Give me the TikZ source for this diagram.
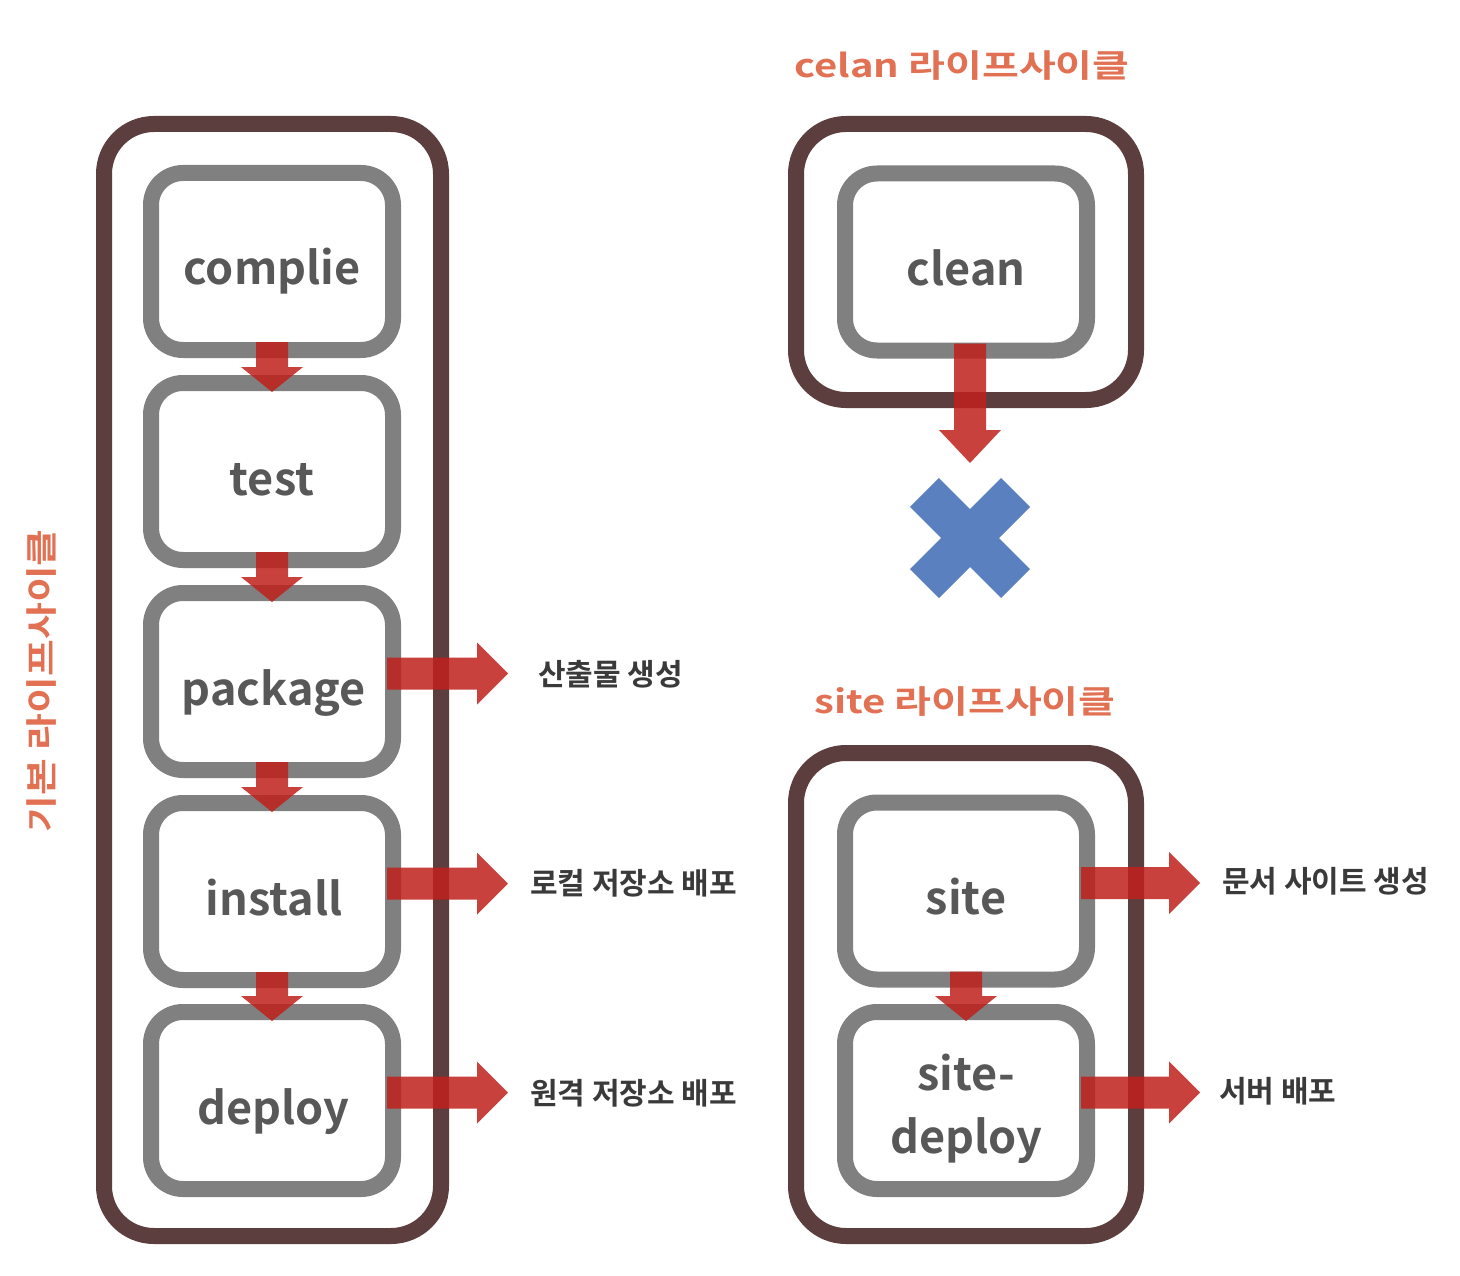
\documentclass[tikz,border=0pt]{standalone}
\usepackage{fontspec}
\setmainfont{Noto Sans CJK KR}[BoldFont={Noto Sans CJK KR Bold}]
\usetikzlibrary{calc}
\definecolor{outerbrown}{RGB}{92,62,62}
\definecolor{innergray}{RGB}{128,128,128}
\definecolor{arrowred}{RGB}{192,32,28}
\definecolor{xblue}{RGB}{91,128,192}
\definecolor{titleorange}{RGB}{226,112,82}
\definecolor{boxtextgray}{RGB}{88,88,88}
\definecolor{labelgray}{RGB}{58,58,58}
\tikzset{
  outerbox/.style={draw=outerbrown, line width=16pt, rounded corners=50pt, minimum width=337pt, inner sep=0pt, outer sep=0pt},
  innerbox/.style={draw=innergray, fill=white, line width=16pt, rounded corners=32pt, minimum width=242pt, minimum height=177pt, inner sep=0pt, outer sep=0pt},
  boxtext/.style={text=boxtextgray, font=\fontsize{45}{54}\selectfont\bfseries, inner sep=0pt, anchor=base},
  sidelabel/.style={text=labelgray, font=\fontsize{30}{36}\selectfont\bfseries, inner sep=0pt, anchor=west},
  titletext/.style={text=titleorange, font=\fontsize{40}{48}\selectfont\bfseries, inner sep=0pt},
  arrowfill/.style={fill=arrowred, fill opacity=0.85}
}
% down arrow from node #1 to node #2
\newcommand\myDownArrow[2]{%
  \fill[arrowfill] let \p1=(#1.south), \p2=(#2.north) in
    (\x1-16pt,\y1+8pt) -- (\x1+16pt,\y1+8pt) -- (\x1+16pt,\y2+16pt) -- (\x1+31pt,\y2+16pt)
    -- (\x1,\y2-9pt) -- (\x1-31pt,\y2+16pt) -- (\x1-16pt,\y2+16pt) -- cycle;}
% right arrow from node #1 to coordinate #2
\newcommand\myRightArrow[2]{%
  \fill[arrowfill] let \p1=($(#1.east)+(-6,-8)$), \p2=(#2) in
    (\x1,\y1+16pt) -- (\x2-31pt,\y1+16pt) -- (\x2-31pt,\y1+31pt) -- (\x2,\y1)
    -- (\x2-31pt,\y1-31pt) -- (\x2-31pt,\y1-16pt) -- (\x1,\y1-16pt) -- cycle;}
\begin{document}
\begin{tikzpicture}[x=1pt,y=-1pt]
\useasboundingbox[fill=white] (0,0) rectangle (1460,1276);

% outer boxes
\node[outerbox, minimum height=1112pt] (basic) at (272.5,680) {};
\node[outerbox, minimum width=340pt, minimum height=276pt] (cleanlc) at (966,262) {};
\node[outerbox, minimum width=340pt, minimum height=483pt] (sitelc) at (966,994.5) {};

% titles
\node[titletext, rotate=90] (basictitle) at (42,681) {\scalebox{1}[0.8]{기본 라이프사이클}};
\node[titletext] (cleantitle) at (962,66) {\scalebox{1}[0.8]{celan 라이프사이클}};
\node[titletext] (sitetitle) at (965,702) {\scalebox{1}[0.8]{site 라이프사이클}};

% left inner boxes
\node[innerbox] (compile) at (272,261.5) {};
\node[innerbox] (test) at (272,471.5) {};
\node[innerbox] (package) at (272,681.5) {};
\node[innerbox] (install) at (272,891.5) {};
\node[innerbox] (deploy) at (272,1100.5) {};
\node[boxtext] (compiletxt) at (272,285) {complie};
\node[boxtext] (testtxt) at (272,495) {test};
\node[boxtext] (packagetxt) at (274,705) {package};
\node[boxtext] (installtxt) at (274,915) {install};
\node[boxtext] (deploytxt) at (273,1124) {deploy};

% right inner boxes
\node[innerbox] (clean) at (966,262) {};
\node[boxtext] (cleantxt) at (966,285.5) {clean};
\node[innerbox] (site) at (966,891) {};
\node[boxtext] (sitetxt) at (966,914.5) {site};
\node[innerbox] (sitedeploy) at (966,1100.5) {};
\node[boxtext] (sitedeploytxta) at (966,1090) {site-};
\node[boxtext] (sitedeploytxtb) at (966,1153) {deploy};

% down arrows
\myDownArrow{compile}{test}
\myDownArrow{test}{package}
\myDownArrow{package}{install}
\myDownArrow{install}{deploy}
\myDownArrow{site}{sitedeploy}

% clean arrow to the cross
\coordinate (cleantip) at (970,463);
\fill[arrowfill] let \p1=(clean.south), \p2=(cleantip) in
  (\x2-16pt,\y1+7pt) -- (\x2+16pt,\y1+7pt) -- (\x2+16pt,\y2+33pt) -- (\x2+31pt,\y2+33pt)
  -- (\x2,\y2) -- (\x2-31pt,\y2+33pt) -- (\x2-16pt,\y2+33pt) -- cycle;

% blue cross
\fill[xblue, rotate around={45:(970,538)}] (905.5,517.5) rectangle (1034.5,558.5);
\fill[xblue, rotate around={-45:(970,538)}] (905.5,517.5) rectangle (1034.5,558.5);

% right arrows and labels
\coordinate (packagetip) at (508,673);
\coordinate (installtip) at (508,883);
\coordinate (deploytip) at (508,1092);
\coordinate (sitetip) at (1200,882);
\coordinate (sitedeploytip) at (1200,1092);
\myRightArrow{package}{packagetip}
\myRightArrow{install}{installtip}
\myRightArrow{deploy}{deploytip}
\myRightArrow{site}{sitetip}
\myRightArrow{sitedeploy}{sitedeploytip}

\node[sidelabel] (packagelabel) at (538,674) {산출물 생성};
\node[sidelabel] (installlabel) at (530,883) {로컬 저장소 배포};
\node[sidelabel] (deploylabel) at (530,1093) {원격 저장소 배포};
\node[sidelabel] (sitelabel) at (1222,881) {문서 사이트 생성};
\node[sidelabel] (sitedeploylabel) at (1219,1091) {서버 배포};
\end{tikzpicture}
\end{document}
